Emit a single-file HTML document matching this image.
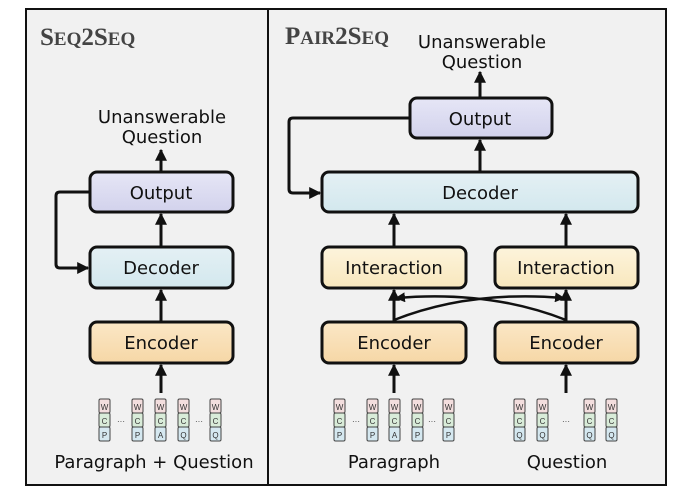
<!DOCTYPE html>
<html><head><meta charset="utf-8"><style>
html,body{margin:0;padding:0;background:#fff;}
svg{display:block;}
text{font-family:"DejaVu Sans","Liberation Sans",sans-serif;fill:#111;}
.t{font-family:"Liberation Serif",serif;font-weight:bold;fill:#444;}
.s{font-family:"Liberation Sans",sans-serif;font-size:8px;fill:#333;}
</style></head><body>
<svg width="691" height="502" viewBox="0 0 691 502" xmlns="http://www.w3.org/2000/svg">
<defs>
<marker id="a" viewBox="0 0 10 10" refX="9" refY="5" markerWidth="4" markerHeight="4" orient="auto-start-reverse"><path d="M0,0L10,5L0,10z" fill="#111"/></marker>
<linearGradient id="enc" x1="0" y1="0" x2="0" y2="1"><stop offset="0" stop-color="#fbe7c6"/><stop offset="1" stop-color="#f6d7a6"/></linearGradient>
<linearGradient id="int" x1="0" y1="0" x2="0" y2="1"><stop offset="0" stop-color="#fdf4dc"/><stop offset="1" stop-color="#f8e7bd"/></linearGradient>
<linearGradient id="dec" x1="0" y1="0" x2="0" y2="1"><stop offset="0" stop-color="#e4f0f4"/><stop offset="1" stop-color="#d3e8ee"/></linearGradient>
<linearGradient id="out" x1="0" y1="0" x2="0" y2="1"><stop offset="0" stop-color="#e6e6f6"/><stop offset="1" stop-color="#d2d2ec"/></linearGradient>
<g id="tk">
<rect x="0" y="0" width="11" height="14" rx="1.5" fill="#f3dede"/>
<rect x="0" y="14" width="11" height="14" rx="1.5" fill="#d9ecd9"/>
<rect x="0" y="28" width="11" height="14" rx="1.5" fill="#d5e8f0"/>
</g>
</defs>
<rect x="26" y="9" width="640" height="476" fill="#f1f1f1" stroke="#111" stroke-width="2"/>
<line x1="268" y1="9" x2="268" y2="485" stroke="#111" stroke-width="2"/>
<text class="t" x="40" y="45" font-size="25">S<tspan font-size="19">EQ</tspan>2S<tspan font-size="19">EQ</tspan></text>
<text class="t" x="285" y="44" font-size="25">P<tspan font-size="19">AIR</tspan>2S<tspan font-size="19">EQ</tspan></text>

<g stroke="#111" stroke-width="3">
<rect x="90" y="172" width="143" height="40" rx="7" fill="url(#out)"/>
<rect x="90" y="247" width="143" height="41" rx="7" fill="url(#dec)"/>
<rect x="90" y="322" width="143" height="41" rx="7" fill="url(#enc)"/>
<rect x="410" y="98" width="142" height="40" rx="7" fill="url(#out)"/>
<rect x="322" y="172" width="316" height="40" rx="7" fill="url(#dec)"/>
<rect x="322" y="247" width="144" height="41" rx="7" fill="url(#int)"/>
<rect x="495" y="247" width="143" height="41" rx="7" fill="url(#int)"/>
<rect x="322" y="322" width="144" height="41" rx="7" fill="url(#enc)"/>
<rect x="495" y="322" width="143" height="41" rx="7" fill="url(#enc)"/>
</g>
<g stroke="#111" stroke-width="3" fill="none" marker-end="url(#a)">
<line x1="161" y1="172" x2="161" y2="150"/>
<line x1="161" y1="247" x2="161" y2="214"/>
<line x1="161" y1="322" x2="161" y2="290"/>
<line x1="161" y1="393" x2="161" y2="365"/>
<path d="M90,192 H60 Q56,192 56,196 V264 Q56,268 60,268 H88"/>
<line x1="480" y1="98" x2="480" y2="72"/>
<line x1="480" y1="172" x2="480" y2="140"/>
<line x1="394" y1="247" x2="394" y2="214"/>
<line x1="566" y1="247" x2="566" y2="214"/>
<line x1="394" y1="322" x2="394" y2="290"/>
<line x1="566" y1="322" x2="566" y2="290"/>
<line x1="394" y1="393" x2="394" y2="365"/>
<line x1="566" y1="393" x2="566" y2="365"/>
<path d="M409,118 H293 Q289,118 289,122 V189 Q289,193 293,193 H320"/>
</g>
<g stroke="#111" stroke-width="2.5" fill="none" marker-end="url(#a)">
<path d="M394,320 Q470,290 564,298"/>
<path d="M566,320 Q490,290 396,298"/>
</g>

<g font-size="18" text-anchor="middle">
<text x="161" y="199">Output</text>
<text x="161" y="274">Decoder</text>
<text x="161" y="349">Encoder</text>
<text x="480" y="125">Output</text>
<text x="480" y="199">Decoder</text>
<text x="394" y="274">Interaction</text>
<text x="566" y="274">Interaction</text>
<text x="394" y="349">Encoder</text>
<text x="566" y="349">Encoder</text>
<text x="162" y="123">Unanswerable</text>
<text x="162" y="143">Question</text>
<text x="482" y="48">Unanswerable</text>
<text x="482" y="68">Question</text>
<text x="154" y="468">Paragraph + Question</text>
<text x="394" y="468">Paragraph</text>
<text x="567" y="468">Question</text>
</g>

<g stroke="#444" stroke-width="1">
<use href="#tk" x="99" y="399"/><use href="#tk" x="132" y="399"/><use href="#tk" x="155" y="399"/><use href="#tk" x="178" y="399"/><use href="#tk" x="210" y="399"/>
<use href="#tk" x="334" y="399"/><use href="#tk" x="367" y="399"/><use href="#tk" x="389" y="399"/><use href="#tk" x="412" y="399"/><use href="#tk" x="443" y="399"/>
<use href="#tk" x="514" y="399"/><use href="#tk" x="537" y="399"/><use href="#tk" x="584" y="399"/><use href="#tk" x="606" y="399"/>
</g>
<g class="s" text-anchor="middle">
<text class="s" x="104.5" y="410">W</text><text class="s" x="104.5" y="424">C</text><text class="s" x="104.5" y="438">P</text>
<text class="s" x="137.5" y="410">W</text><text class="s" x="137.5" y="424">C</text><text class="s" x="137.5" y="438">P</text>
<text class="s" x="160.5" y="410">W</text><text class="s" x="160.5" y="424">C</text><text class="s" x="160.5" y="438">A</text>
<text class="s" x="183.5" y="410">W</text><text class="s" x="183.5" y="424">C</text><text class="s" x="183.5" y="438">Q</text>
<text class="s" x="215.5" y="410">W</text><text class="s" x="215.5" y="424">C</text><text class="s" x="215.5" y="438">Q</text>
<text class="s" x="339.5" y="410">W</text><text class="s" x="339.5" y="424">C</text><text class="s" x="339.5" y="438">P</text>
<text class="s" x="372.5" y="410">W</text><text class="s" x="372.5" y="424">C</text><text class="s" x="372.5" y="438">P</text>
<text class="s" x="394.5" y="410">W</text><text class="s" x="394.5" y="424">C</text><text class="s" x="394.5" y="438">A</text>
<text class="s" x="417.5" y="410">W</text><text class="s" x="417.5" y="424">C</text><text class="s" x="417.5" y="438">P</text>
<text class="s" x="448.5" y="410">W</text><text class="s" x="448.5" y="424">C</text><text class="s" x="448.5" y="438">P</text>
<text class="s" x="519.5" y="410">W</text><text class="s" x="519.5" y="424">C</text><text class="s" x="519.5" y="438">Q</text>
<text class="s" x="542.5" y="410">W</text><text class="s" x="542.5" y="424">C</text><text class="s" x="542.5" y="438">Q</text>
<text class="s" x="589.5" y="410">W</text><text class="s" x="589.5" y="424">C</text><text class="s" x="589.5" y="438">Q</text>
<text class="s" x="611.5" y="410">W</text><text class="s" x="611.5" y="424">C</text><text class="s" x="611.5" y="438">Q</text>
<text class="s" x="121" y="424">···</text><text class="s" x="199" y="424">···</text>
<text class="s" x="356" y="424">···</text><text class="s" x="432" y="424">···</text>
<text class="s" x="566" y="424">···</text>
</g>
</svg>
</body></html>
